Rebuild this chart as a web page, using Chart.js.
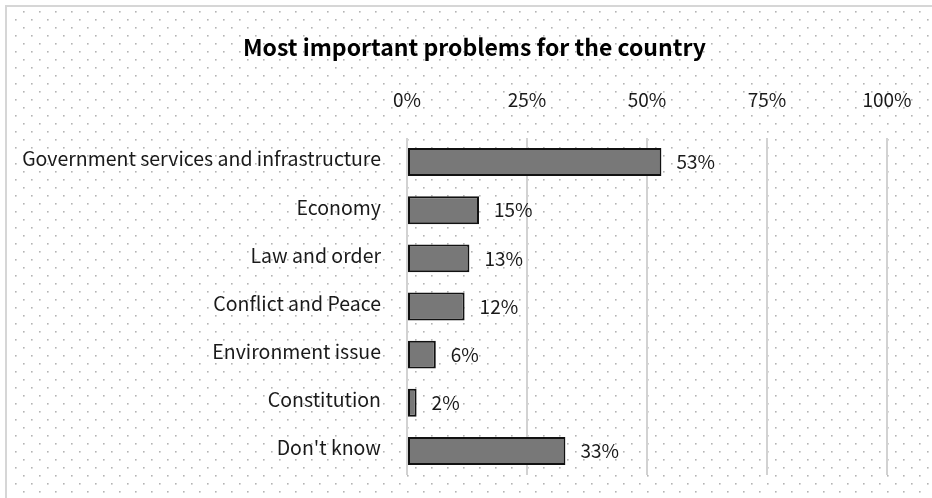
<!DOCTYPE html>
<html>
<head>
<meta charset="utf-8">
<script src="https://cdn.jsdelivr.net/npm/chart.js@4.4.1/dist/chart.umd.min.js"></script>
<style>
  html, body { margin: 0; padding: 0; background: #ffffff; }
  #wrap { width: 932px; height: 498px; }
</style>
</head>
<body>
<div id="wrap"><canvas id="chart" width="932" height="498"></canvas></div>
<script>
const categories = [
  "Government services and infrastructure",
  "Economy",
  "Law and order",
  "Conflict and Peace",
  "Environment issue",
  "Constitution",
  "Don't know"
];
const shares = [53, 15, 13, 12, 6, 2, 33];
const tickValues = [0, 25, 50, 75, 100];
const chartTitle = "Most important problems for the country";

const FONT = "'Noto Sans CJK JP', 'Noto Sans', sans-serif";

// Dotted paper background with a thin frame on the top and left edges
const dottedBackground = {
  id: "dottedBackground",
  beforeDraw(chart) {
    const ctx = chart.ctx;
    const w = chart.width, h = chart.height;
    ctx.save();
    ctx.fillStyle = "#ffffff";
    ctx.fillRect(0, 0, w, h);
    ctx.fillStyle = "#b4b4b4";
    for (let y = 3; y < h; y += 8) {
      const row = Math.round((y - 3) / 8);
      const x0 = row % 2 === 0 ? 15 : 7;
      for (let x = x0; x < w; x += 16) {
        if (x > 8 && y > 8) ctx.fillRect(x, y, 1.6, 1.6);
      }
    }
    ctx.strokeStyle = "#d6d6d6";
    ctx.lineWidth = 2;
    ctx.beginPath();
    ctx.moveTo(6, h);
    ctx.lineTo(6, 6);
    ctx.lineTo(w, 6);
    ctx.stroke();
    ctx.restore();
  }
};

// Let the long category names run past the left edge of the y scale box
const wideCategoryLabels = {
  id: "wideCategoryLabels",
  afterLayout(chart) {
    chart.scales.y.left = 0;
  }
};

// Percentage labels to the right of each bar
const barValueLabels = {
  id: "barValueLabels",
  afterDatasetsDraw(chart) {
    const ctx = chart.ctx;
    const meta = chart.getDatasetMeta(0);
    const values = chart.data.datasets[0].data;
    ctx.save();
    ctx.font = "19px " + FONT;
    ctx.fillStyle = "#1a1a1a";
    ctx.textAlign = "left";
    ctx.textBaseline = "middle";
    meta.data.forEach((bar, i) => {
      ctx.fillText(values[i] + "%", bar.x + 15, bar.y);
    });
    ctx.restore();
  }
};

new Chart(document.getElementById("chart"), {
  type: "bar",
  data: {
    labels: categories,
    datasets: [{
      data: shares,
      backgroundColor: "#787878",
      borderColor: "#111111",
      borderWidth: 2,
      borderSkipped: false,
      categoryPercentage: 1.0,
      barPercentage: 0.58
    }]
  },
  options: {
    indexAxis: "y",
    responsive: false,
    animation: false,
    events: [],
    layout: { padding: { left: 62, right: 45, top: 0, bottom: 23 } },
    plugins: {
      legend: { display: false },
      tooltip: { enabled: false },
      title: {
        display: true,
        text: chartTitle,
        color: "#000000",
        font: { family: FONT, size: 23, weight: "bold", lineHeight: 1.2 },
        padding: { top: 33, bottom: 10 }
      }
    },
    scales: {
      x: {
        position: "top",
        min: 0,
        max: 100,
        afterBuildTicks(scale) {
          scale.ticks = tickValues.map(v => ({ value: v }));
        },
        afterFit(scale) { scale.height = 138 - (33 + 23 * 1.2 + 10); },
        grid: {
          display: true,
          drawTicks: true,
          tickLength: 27,
          tickColor: "rgba(0,0,0,0)",
          color: "#d2d2d2",
          lineWidth: 2
        },
        border: { display: false },
        ticks: {
          padding: 0,
          color: "#1a1a1a",
          font: { family: FONT, size: 19 },
          callback: v => v + "%"
        }
      },
      y: {
        afterFit(scale) { scale.width = 407 - 62; },
        grid: { display: false, drawTicks: true, tickLength: 26 },
        border: { display: false },
        ticks: {
          padding: 0,
          labelOffset: -3,
          color: "#1a1a1a",
          font: { family: FONT, size: 19.5 }
        }
      }
    }
  },
  plugins: [dottedBackground, wideCategoryLabels, barValueLabels]
});
</script>
</body>
</html>
